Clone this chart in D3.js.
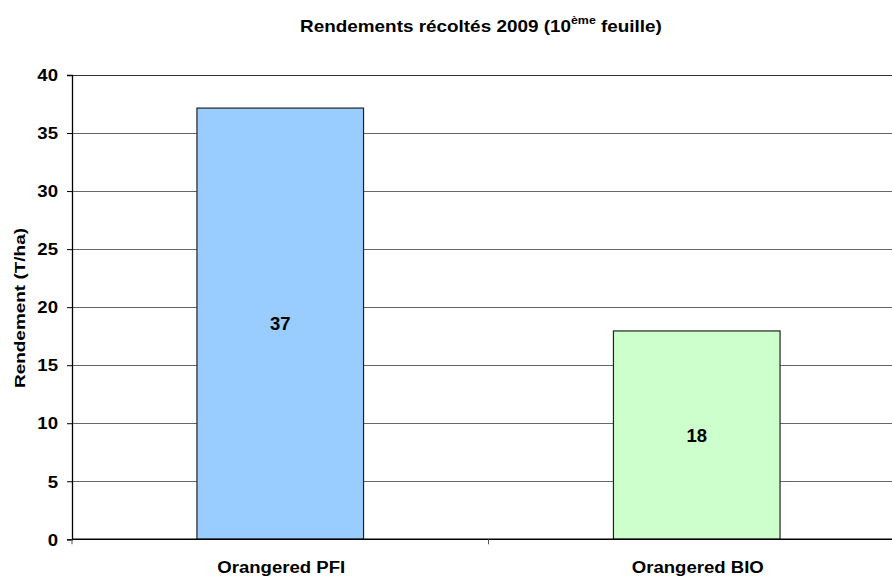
<!DOCTYPE html>
<html><head><meta charset="utf-8">
<script src="https://cdn.jsdelivr.net/npm/d3@7"></script>
<style>body{margin:0;background:#fff}svg{display:block;font-family:"Liberation Sans",Arial,sans-serif}</style>
</head><body><svg id="c" width="892" height="576"></svg>
<script>
const categories = ["Orangered PFI", "Orangered BIO"];
const values = [37.15, 17.95];
const valueLabels = ["37", "18"];
const colors = ["#99CCFF", "#CCFFCC"];
const yTicks = [0, 5, 10, 15, 20, 25, 30, 35, 40];

(function(){
const svg = d3.select("#c");
const mLeft = 72, mRight = 905, mTop = 75, mBottom = 539.3;
const STRETCH = 1.16;

function stretch(sel, factor) {
  sel.each(function() {
    const w = this.getComputedTextLength();
    this.setAttribute("textLength", w * factor);
    this.setAttribute("lengthAdjust", "spacingAndGlyphs");
  });
}

const x = d3.scaleBand().domain(categories).range([mLeft, mRight]).padding(0);
const y = d3.scaleLinear().domain([0, 40]).range([mBottom, mTop]);

// gridlines
svg.append("g").selectAll("line").data(yTicks.filter(d => d > 0)).join("line")
  .attr("x1", mLeft).attr("x2", mRight)
  .attr("y1", d => Math.round(y(d)) + 0.5).attr("y2", d => Math.round(y(d)) + 0.5)
  .attr("stroke", d => d === 40 ? "#333" : "#666").attr("stroke-width", 1);

// bars
const bw = x.bandwidth() * 0.4;
svg.append("g").selectAll("rect").data(values).join("rect")
  .attr("x", (d, i) => x(categories[i]) + (x.bandwidth() - bw) / 2)
  .attr("y", d => y(d))
  .attr("width", bw)
  .attr("height", d => y(0) - y(d))
  .attr("fill", (d, i) => colors[i])
  .attr("stroke", "#222").attr("stroke-width", 1.2);

// value labels
svg.append("g").selectAll("text").data(values).join("text")
  .attr("x", (d, i) => x(categories[i]) + x.bandwidth() / 2)
  .attr("y", d => (y(d) + y(0)) / 2)
  .attr("dy", "0.35em")
  .attr("text-anchor", "middle")
  .attr("font-size", 18.5).attr("font-weight", "bold")
  .text((d, i) => valueLabels[i]);

// y axis
const yAxis = d3.axisLeft(y).tickValues(yTicks).tickSize(5).tickPadding(9).tickFormat(d3.format("d"));
const gy = svg.append("g").attr("transform", `translate(${mLeft},0)`).call(yAxis);
gy.select(".domain").attr("stroke", "#000").attr("stroke-width", 1.3);
gy.selectAll(".tick line").attr("stroke", "#000");
const ytxt = gy.selectAll("text").attr("font-size", 16).attr("font-weight", "bold")
  .attr("font-family", "Liberation Sans, Arial, sans-serif").attr("fill", "#000")
  .attr("dy", "0.36em");
stretch(ytxt, STRETCH);

// x axis
const gx = svg.append("g").attr("transform", `translate(0,${mBottom})`);
gx.append("line").attr("x1", mLeft).attr("x2", mRight).attr("y1", 0).attr("y2", 0)
  .attr("stroke", "#000").attr("stroke-width", 1.5);
const dividers = [mLeft, ...categories.map(c => x(c) + x.bandwidth())];
gx.selectAll("line.div").data(dividers).join("line").attr("class", "div")
  .attr("x1", d => d).attr("x2", d => d).attr("y1", 0).attr("y2", 5)
  .attr("stroke", "#555");
const xtxt = gx.selectAll("text").data(categories).join("text")
  .attr("x", c => x(c) + x.bandwidth() / 2 + 1)
  .attr("y", 33.4)
  .attr("text-anchor", "middle")
  .attr("font-size", 16).attr("font-weight", "bold")
  .text(c => c);
stretch(xtxt, STRETCH);

// y label
const yl = svg.append("text")
  .attr("transform", `translate(25,308) rotate(-90)`)
  .attr("text-anchor", "middle")
  .attr("font-size", 15.5).attr("font-weight", "bold")
  .text("Rendement (T/ha)");
yl.attr("textLength", 160).attr("lengthAdjust", "spacingAndGlyphs");

// title
const tcx = 481;
const tg = svg.append("g");
const t = tg.append("text").attr("x", tcx).attr("y", 32.3).attr("text-anchor", "middle")
  .attr("font-size", 16).attr("font-weight", "bold");
t.append("tspan").text("Rendements récoltés 2009 (10");
t.append("tspan").attr("font-size", 10.5).attr("dy", -8).text("ème");
t.append("tspan").attr("dy", 8).text(" feuille)");
const tw = t.node().getBBox().width;
const k = 362 / tw;
tg.attr("transform", `translate(${tcx},0) scale(${k},1) translate(${-tcx},0)`);
})();
</script>
</body></html>
